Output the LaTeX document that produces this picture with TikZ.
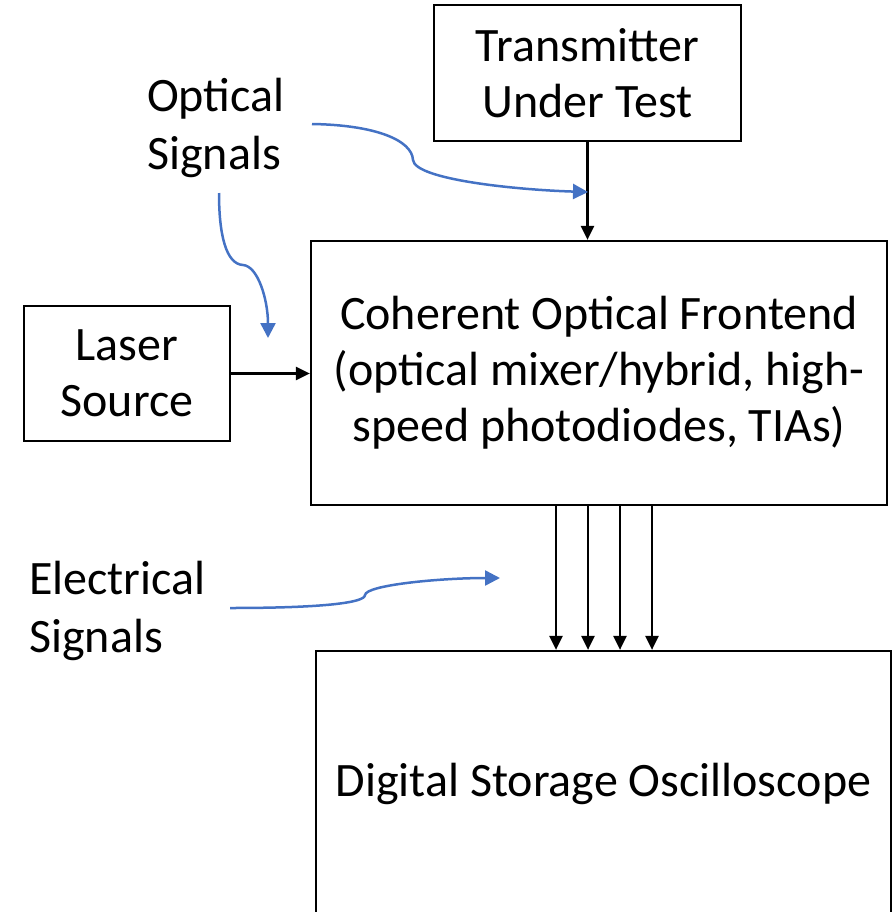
\documentclass[tikz,border=0pt]{standalone}
\usepackage{fontspec}
\setmainfont{Carlito}
\usetikzlibrary{arrows.meta}
\definecolor{officeblue}{HTML}{4472C4}
\tikzset{
  boxnode/.style={draw=black, line width=2.25bp, align=center, inner sep=0pt,
    font=\fontsize{48bp}{56bp}\selectfont},
  lbl/.style={align=left, inner sep=0pt, font=\fontsize{48bp}{58bp}\selectfont},
  arr/.style={line width=2.25bp, -{Triangle[length=14bp,width=13bp]}},
  barr/.style={officeblue, line width=2.5bp, -{Triangle[length=15bp,width=15bp]}}
}
\begin{document}
\begin{tikzpicture}[x=1bp,y=-1bp]
\useasboundingbox (0,0) rectangle (895,912);
\clip (0,0) rectangle (895,912);
\node[boxnode, minimum width=307bp, minimum height=136bp] (tx) at (587.5,73) {Transmitter\\Under Test};
\node[boxnode, minimum width=576bp, minimum height=264bp] (coh) at (599,373) {Coherent Optical Frontend\\(optical mixer/hybrid, high-\\speed photodiodes, TIAs)};
\node[boxnode, minimum width=206bp, minimum height=135bp] (laser) at (127,373.5) {Laser\\Source};
\node[boxnode, minimum width=575bp, minimum height=265bp] (dso) at (603.5,783.5) {Digital Storage Oscilloscope};
\node[lbl, anchor=west] (opt) at (147,128) {Optical\\Signals};
\node[lbl, anchor=west] (ele) at (29,611) {Electrical\\Signals};
\draw[arr] (tx.south) -- (tx.south |- coh.north);
\draw[arr] (laser.east) -- (laser.east -| coh.west);
\foreach \x in {556,588,620,652} \draw[arr] (\x,0 |- coh.south) -- (\x,0 |- dso.north);
\coordinate (b1s) at (312,124);
\coordinate (b1k) at (413,160);
\coordinate (b1e) at (588,192);
\coordinate (b2s) at (219,193);
\coordinate (b2k) at (243,265);
\coordinate (b2e) at (268,338);
\coordinate (b3s) at (230,608);
\coordinate (b3k) at (365,595);
\coordinate (b3e) at (500,578);
\draw[barr] (b1s) .. controls (375,125) and (412,140) .. (b1k) .. controls (415,180) and (520,190) .. (b1e);
\draw[barr] (b2s) .. controls (219,235) and (226,264) .. (b2k) .. controls (258,266) and (268,300) .. (b2e);
\draw[barr] (b3s) .. controls (320,608) and (365,603) .. (b3k) .. controls (366,585) and (440,578) .. (b3e);
\end{tikzpicture}
\end{document}
